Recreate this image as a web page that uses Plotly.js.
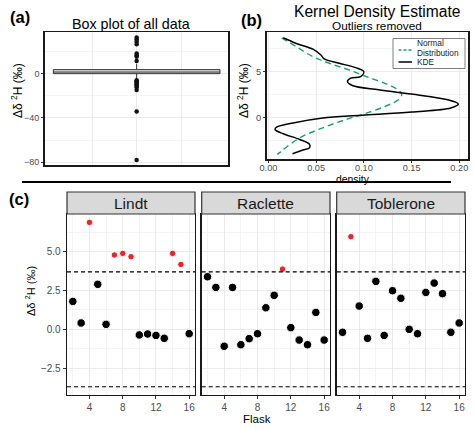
<!DOCTYPE html>
<html>
<head>
<meta charset="utf-8">
<script src="https://cdn.plot.ly/plotly-3.0.1.min.js"></script>
<style>html,body{margin:0;padding:0;background:#fff;}#chart{width:474px;height:429px;}</style>
</head>
<body>
<div id="chart"></div>
<script>
// ---------- DATA ----------
// Panel (a): box plot of all data (summary statistics + outliers)
const BOX_Q1 = -0.25;
const BOX_MEDIAN = 1.2;
const BOX_Q3 = 3.4;
const BOX_LOWER_WHISKER = -5.5;
const BOX_UPPER_WHISKER = 8.7;
const BOX_OUTLIERS = [32.4, 30.6, 28.5, 26.3, 18.0, 16.4, 14.9, 11.1,
  -6.2, -7.0, -7.8, -8.6, -9.5, -10.4, -11.2, -12.5, -14.9, -34.3, -77.9];

// Panel (b): kernel density estimate vs normal distribution (outliers removed)
const KDE_VALUE   = [8.70, 8.08, 7.46, 6.81, 6.38, 5.91, 5.43, 5.00, 4.46, 4.28, 3.91, 3.48, 3.01, 2.54, 1.92, 1.45, 1.01, 0.58, 0.22, -0.07, -0.62, -1.09, -1.34, -1.81, -2.43, -2.97, -3.33, -3.59, -3.99];
const KDE_DENSITY = [0.0155, 0.0293, 0.0466, 0.0550, 0.0586, 0.0741, 0.0914, 0.1000, 0.0966, 0.0862, 0.0828, 0.0879, 0.1155, 0.1500, 0.1880, 0.1990, 0.1910, 0.1500, 0.0983, 0.0569, 0.0259, 0.0086, 0.0069, 0.0155, 0.0328, 0.0431, 0.0431, 0.0362, 0.0252];
const NORM_VALUE   = [8.70, 7.72, 6.63, 5.91, 5.18, 4.35, 3.55, 2.83, 2.46, 1.92, 1.20, 0.36, -0.25, -1.16, -2.07, -2.97, -3.70, -4.06];
const NORM_DENSITY = [0.0138, 0.0293, 0.0466, 0.0638, 0.0845, 0.1052, 0.1259, 0.1379, 0.1397, 0.1362, 0.1224, 0.1000, 0.0810, 0.0569, 0.0362, 0.0224, 0.0138, 0.0093];

// Panel (c): per-flask values for each product
const FLASK = [2, 3, 4, 5, 6, 7, 8, 9, 10, 11, 12, 13, 14, 15, 16];
const LINDT     = [1.80, 0.41, 6.89, 2.90, 0.32, 4.79, 4.89, 4.68, -0.36, -0.30, -0.39, -0.58, 4.89, 4.18, -0.28];
const RACLETTE  = [3.39, 2.70, -1.09, 2.70, -0.99, -0.60, -0.28, 1.39, 2.19, 3.88, 0.11, -0.69, -0.99, 1.09, -0.69];
const TOBLERONE = [-0.19, 5.97, 1.50, -0.58, 3.09, -0.39, 2.49, 2.00, 0.00, -0.28, 2.38, 2.98, 2.30, -0.19, 0.41];
const PRODUCTS = ["Lindt", "Raclette", "Toblerone"];
const LIMIT = 3.7;   // dashed threshold lines at ±LIMIT

// ---------- LAYOUT HELPERS ----------
const W = 474, H = 429;
const px = v => v / W;
const py = v => 1 - v / H;
const FONT = "Liberation Sans, Arial, Helvetica, sans-serif";
const TICKCOL = "#4d4d4d";
const GRID = "#ebebeb";
const YTITLE = "Δδ <sup>2</sup>H (‰)";

const SERIES = [LINDT, RACLETTE, TOBLERONE];

const traces = [];
// (a) box
traces.push({
  type: "box", x: [0], q1: [BOX_Q1], median: [BOX_MEDIAN], q3: [BOX_Q3],
  lowerfence: [BOX_LOWER_WHISKER], upperfence: [BOX_UPPER_WHISKER],
  width: 0.75, whiskerwidth: 0, boxpoints: false,
  fillcolor: "#dcdcdc", line: {color: "#333333", width: 1},
  xaxis: "x", yaxis: "y", showlegend: false, hoverinfo: "skip"
});
traces.push({
  type: "scatter", mode: "markers", x: BOX_OUTLIERS.map(() => 0), y: BOX_OUTLIERS,
  marker: {color: "#111", size: 4.5, opacity: 1}, xaxis: "x", yaxis: "y", showlegend: false
});
// (b) curves
traces.push({
  type: "scatter", mode: "lines", x: NORM_DENSITY, y: NORM_VALUE,
  line: {color: "#1b9e77", width: 1.4, dash: "6px,4px", shape: "spline", smoothing: 1},
  xaxis: "x2", yaxis: "y2", showlegend: false
});
traces.push({
  type: "scatter", mode: "lines", x: KDE_DENSITY, y: KDE_VALUE,
  line: {color: "#000", width: 1.5, shape: "spline", smoothing: 1},
  xaxis: "x2", yaxis: "y2", showlegend: false
});
// (c) facets
SERIES.forEach((vals, i) => {
  const ax = i + 3;
  traces.push({
    type: "scatter", mode: "markers", x: FLASK, y: vals,
    marker: {
      color: vals.map(v => Math.abs(v) > LIMIT ? "#e8262a" : "#000"),
      size: vals.map(v => Math.abs(v) > LIMIT ? 6.5 : 8.5),
      opacity: 1
    },
    xaxis: "x" + ax, yaxis: "y" + ax, showlegend: false
  });
});

const baseAxis = {
  showline: true, mirror: true, linecolor: "#1a1a1a", linewidth: 1.3,
  showgrid: true, gridcolor: GRID, gridwidth: 1, zeroline: false,
  ticks: "outside", ticklen: 3, tickcolor: "#333", tickwidth: 1,
  tickfont: {family: FONT, size: 10, color: TICKCOL}
};
const ax = o => Object.assign({}, baseAxis, o);

const layout = {
  width: W, height: H, autosize: false,
  margin: {l: 0, r: 0, t: 0, b: 0},
  paper_bgcolor: "#fff", plot_bgcolor: "#fff",
  font: {family: FONT, color: "#000"},
  // (a)
  xaxis: ax({domain: [px(45), px(228.3)], range: [-0.4125, 0.4125], tickvals: [-0.2, 0, 0.2],
    showticklabels: false, ticks: "", linewidth: 1.8, anchor: "y"}),
  yaxis: ax({domain: [py(165), py(32.3)], range: [-82.5, 37], tickvals: [-80, -40, 0],
    linewidth: 1.8, anchor: "x", ticklen: 2, tickfont: {family: FONT, size: 9, color: TICKCOL},
    minor: {tickvals: [-60, -20, 20], showgrid: true, gridcolor: "#f4f4f4", ticks: ""}}),
  // (b)
  xaxis2: ax({domain: [px(267), px(467.7)], range: [-0.0015, 0.2088], tickvals: [0, 0.05, 0.1, 0.15, 0.2],
    tickformat: ".2f", linewidth: 1.8, anchor: "y2", ticklen: 2, ticklabelstandoff: -3,
    tickfont: {family: FONT, size: 9.2, color: TICKCOL}}),
  yaxis2: ax({domain: [py(159.3), py(32.3)], range: [-4.6, 9.3], tickvals: [0, 5], linewidth: 1.8, anchor: "x2",
    ticklen: 2, tickfont: {family: FONT, size: 9.4, color: TICKCOL},
    minor: {tickvals: [-2.5, 2.5, 7.5], showgrid: true, gridcolor: "#f4f4f4", ticks: ""}}),
  shapes: [], annotations: []
};

const facetX = [[67, 195], [201.7, 330], [336.7, 465]];
facetX.forEach((d, i) => {
  const n = i + 3;
  layout["xaxis" + n] = ax({domain: [px(d[0]), px(d[1])], range: [1.3, 16.7], tickvals: [4, 8, 12, 16],
    anchor: "y" + n, minor: {tickvals: [2, 6, 10, 14], showgrid: true, gridcolor: "#f4f4f4", ticks: ""}});
  layout["yaxis" + n] = ax({domain: [py(395), py(214)], range: [-4.23, 7.43], tickvals: [-2.5, 0, 2.5, 5],
    tickformat: ".1f", anchor: "x" + n, showticklabels: i === 0, ticks: i === 0 ? "outside" : "",
    minor: {tickvals: [-3.75, -1.25, 1.25, 3.75, 6.25], showgrid: true, gridcolor: "#f4f4f4", ticks: ""}});
  // strip
  layout.shapes.push({type: "rect", xref: "paper", yref: "paper", x0: px(d[0]), x1: px(d[1]), y0: py(214), y1: py(192),
    fillcolor: "#d9d9d9", line: {color: "#333", width: 1.2}, layer: "above"});
  layout.annotations.push({xref: "paper", yref: "paper", x: (px(d[0]) + px(d[1])) / 2, y: py(203),
    text: PRODUCTS[i], showarrow: false, xanchor: "center", yanchor: "middle", font: {size: 15.5, color: "#1a1a1a"}});
  // threshold lines
  [LIMIT, -LIMIT].forEach(v => layout.shapes.push({type: "line", xref: "x" + n + " domain", yref: "y" + n,
    x0: 0, x1: 1, y0: v, y1: v, line: {color: "#000", width: 1.2, dash: "4px,3px"}}));
});

// separator line
layout.shapes.push({type: "line", xref: "paper", yref: "paper", x0: px(22), x1: px(451), y0: py(182), y1: py(182),
  line: {color: "#000", width: 2}});

// manual legend for (b)
layout.shapes.push({type: "rect", xref: "paper", yref: "paper", x0: px(393), x1: px(465), y0: py(68.5), y1: py(38.5),
  fillcolor: "#fff", line: {color: "#7f7f7f", width: 1}});
layout.shapes.push({type: "line", xref: "paper", yref: "paper", x0: px(398.5), x1: px(412), y0: py(50), y1: py(50),
  line: {color: "#1b9e77", width: 1.4, dash: "3px,2px"}});
layout.shapes.push({type: "line", xref: "paper", yref: "paper", x0: px(398.5), x1: px(412), y0: py(62), y1: py(62),
  line: {color: "#000", width: 1.5}});

const A = (x, y, text, size, extra) => layout.annotations.push(Object.assign({
  xref: "paper", yref: "paper", x: px(x), y: py(y), text: text, showarrow: false,
  xanchor: "center", yanchor: "middle", font: {size: size, color: "#000"}}, extra || {}));

A(415, 43.5, "Normal", 8.3, {xanchor: "left", font: {size: 8.3, color: "#1a1a1a"}});
A(415, 53.5, "Distribution", 8.3, {xanchor: "left", font: {size: 8.3, color: "#1a1a1a"}});
A(415, 62, "KDE", 8.3, {xanchor: "left", font: {size: 8.3, color: "#1a1a1a"}});

// titles
A(131, 24, "Box plot of all data", 14.3);
A(376.7, 11, "Kernel Density Estimate", 15.6);
A(376.7, 26.5, "Outliers removed", 11.8);
A(256.5, 419, "Flask", 11.5);
A(352.5, 179, "density", 10.4, {borderpad: 0});
// panel letters
A(20, 17, "<b>(a)</b>", 16.5);
A(251.5, 20, "<b>(b)</b>", 16.5);
A(18.5, 199, "<b>(c)</b>", 16.5);
// y titles
A(17, 91, YTITLE, 12, {textangle: -90});
A(243, 90, YTITLE, 12, {textangle: -90});
A(30, 291, YTITLE, 11, {textangle: -90});

Plotly.newPlot("chart", traces, layout, {displayModeBar: false, staticPlot: true});
</script>
</body>
</html>
